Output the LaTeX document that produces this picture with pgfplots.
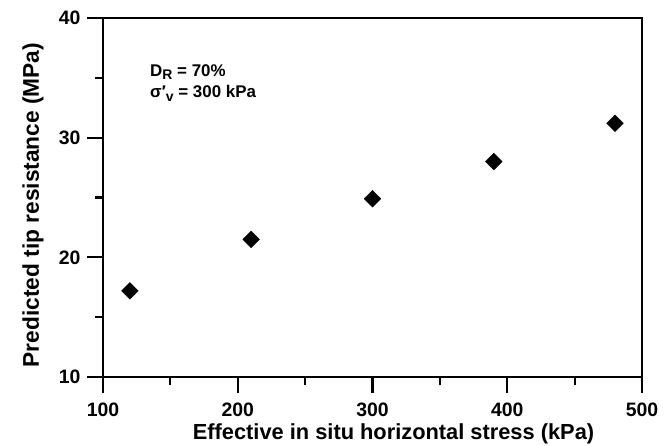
\documentclass[border=0pt]{standalone}
\usepackage{fontspec}
\setmainfont{Liberation Sans}
\usepackage{pgfplots}
\pgfplotsset{compat=1.18}
\begin{document}
\begin{tikzpicture}
\path[use as bounding box] (0,0) rectangle (671bp,446bp);
\begin{axis}[
  at={(103bp,69bp)}, anchor=south west,
  scale only axis, width=539bp, height=359bp,
  xmin=100, xmax=500, ymin=10, ymax=40,
  xtick={100,200,...,500}, ytick={10,20,30,40},
  minor xtick={150,250,350,450}, minor ytick={15,25,35},
  tick align=outside, major tick length=16bp, minor tick length=8bp,
  tick style={line width=2.2bp, black},
  axis line style={line width=2.2bp},
  xtick pos=bottom, ytick pos=left,
  /pgf/number format/assume math mode=true,
  ticklabel style={font=\fontsize{19.5}{22}\selectfont\bfseries},
  xticklabel style={yshift=-6bp},
  yticklabel style={xshift=-3bp},
  xlabel={Effective in situ horizontal stress (kPa)},
  ylabel={Predicted tip resistance (MPa)},
  xlabel style={font=\fontsize{21.9}{24}\selectfont\bfseries, at={(axis description cs:0.539,-0.1745)}, anchor=base},
  ylabel style={font=\fontsize{22.8}{24}\selectfont\bfseries, at={(axis description cs:-0.1190,0.479)}, anchor=base},
]
\addplot[only marks, mark=square*, mark size=5.9bp, mark options={rotate=45}, black] coordinates {
(120,17.2) (210,21.5) (300,24.9) (390,28.0) (480,31.2)
};
\node[anchor=base west, inner sep=0pt, font=\fontsize{17}{20}\selectfont\bfseries] at (axis cs:134.9,35.15) {D{\fontsize{14}{16}\selectfont\raisebox{-0.25em}{R}} = 70\%};
\node[anchor=base west, inner sep=0pt, font=\fontsize{17}{20}\selectfont\bfseries] at (axis cs:134.9,33.39) {σ′{\fontsize{14}{16}\selectfont\raisebox{-0.3em}{v}} = 300 kPa};
\end{axis}
\end{tikzpicture}
\end{document}
